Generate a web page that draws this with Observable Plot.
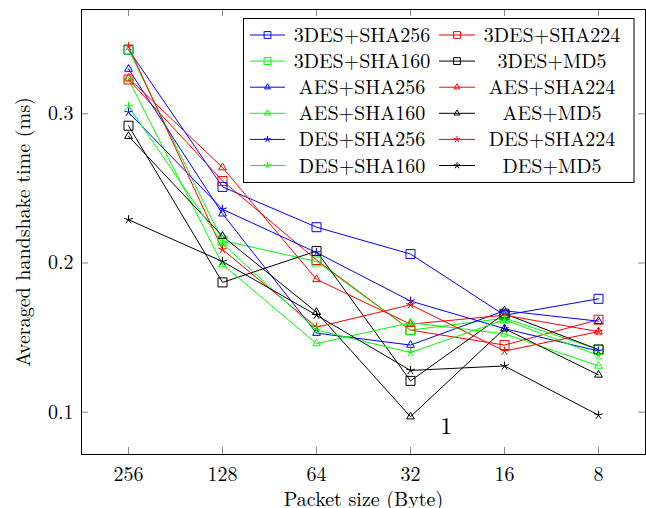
<!DOCTYPE html>
<html><head><meta charset="utf-8">
<script src="https://cdn.jsdelivr.net/npm/d3@7"></script>
<script src="https://cdn.jsdelivr.net/npm/@observablehq/plot@0.6"></script>
<style>
body{margin:0;background:#fff}
#chart svg text{font-family:'Latin Modern Roman','Liberation Serif',serif !important;}
</style>
</head><body><div id="chart"></div>
<script>
// ---- data ----
const packetSizes = [256, 128, 64, 32, 16, 8];
const ciphers = ["3DES", "AES", "DES"];
const hashes = ["SHA256", "SHA224", "SHA160", "MD5"];
const hashColors = ["#0000ff", "#ff0000", "#00ff00", "#000000"];
const yTicks = [0.1, 0.2, 0.3];

const des3Sha256 = [0.343, 0.251, 0.224, 0.206, 0.165, 0.176];
const des3Sha224 = [0.323, 0.255, 0.202, 0.155, 0.145, 0.162];
const des3Sha160 = [0.343, 0.215, 0.201, 0.155, 0.163, 0.142];
const des3Md5    = [0.292, 0.187, 0.208, 0.121, 0.166, 0.142];
const aesSha256  = [0.330, 0.233, 0.153, 0.145, 0.168, 0.161];
const aesSha224  = [0.324, 0.264, 0.189, 0.159, 0.165, 0.154];
const aesSha160  = [0.323, 0.199, 0.146, 0.160, 0.1525, 0.131];
const aesMd5     = [0.285, 0.218, 0.167, 0.097, 0.156, 0.125];
const desSha256  = [0.301, 0.236, 0.207, 0.1745, 0.156, 0.141];
const desSha224  = [0.345, 0.209, 0.157, 0.172, 0.141, 0.154];
const desSha160  = [0.305, 0.213, 0.155, 0.140, 0.162, 0.138];
const desMd5     = [0.229, 0.201, 0.165, 0.128, 0.131, 0.098];

const seriesArrays = [
  des3Sha256, des3Sha224, des3Sha160, des3Md5,
  aesSha256, aesSha224, aesSha160, aesMd5,
  desSha256, desSha224, desSha160, desMd5
];

const annotationText = ["1"];
const annotationX = [3.38];
const annotationY = [0.0904];

// ---- build table ----
const rows = [];
const seriesInfo = [];
ciphers.forEach((c, ci) => hashes.forEach((h, hi) => {
  const k = ci * hashes.length + hi;
  const name = c + "+" + h;
  seriesInfo.push({name, cipher: c, hash: h});
  seriesArrays[k].forEach((v, i) => rows.push({series: name, cipher: c, hash: h, i, v}));
}));

// ---- pgfplots-like marks ----
const rad = size => Math.sqrt(size / Math.PI);
const squareSym = {draw(c, size) { const r = rad(size); c.moveTo(-r, -r); c.lineTo(r, -r); c.lineTo(r, r); c.lineTo(-r, r); c.closePath(); }};
const triangleSym = {draw(c, size) { const r = rad(size); c.moveTo(0, -r); c.lineTo(r * 0.866, r * 0.5); c.lineTo(-r * 0.866, r * 0.5); c.closePath(); }};
const starSym = {draw(c, size) { const r = rad(size); for (let k = 0; k < 5; k++) { const a = -Math.PI / 2 + k * 2 * Math.PI / 5; c.moveTo(0, 0); c.lineTo(r * Math.cos(a), r * Math.sin(a)); } }};
const cipherSymbols = [squareSym, triangleSym, starSym];

const W = 646, H = 508, mL = 81, mR = 1, mT = 9, mB = 54;
const plotW = W - mL - mR, plotH = H - mT - mB;
const font = "'Latin Modern Roman', 'Liberation Serif', serif";
const xIdx = packetSizes.map((d, i) => i);

const chart = Plot.plot({
  width: W, height: H,
  marginLeft: mL, marginRight: mR, marginTop: mT, marginBottom: mB,
  style: {fontFamily: font, fontSize: "20px", background: "#fff", color: "#000"},
  x: {type: "linear", domain: [-0.5, 5.5]},
  y: {domain: [0.07165, 0.3699]},
  color: {domain: hashes, range: hashColors},
  symbol: {domain: ciphers, range: cipherSymbols},
  marks: [
    Plot.ruleX(xIdx, {x: d => d, insetTop: plotH - 7, stroke: "#888", strokeWidth: 1}),
    Plot.ruleX(xIdx, {x: d => d, insetBottom: plotH - 7, stroke: "#888", strokeWidth: 1}),
    Plot.ruleY(yTicks, {y: d => d, insetRight: plotW - 7, stroke: "#888", strokeWidth: 1}),
    Plot.ruleY(yTicks, {y: d => d, insetLeft: plotW - 7, stroke: "#888", strokeWidth: 1}),
    Plot.axisX({ticks: xIdx, tickFormat: i => String(packetSizes[i]), tickSize: 0, tickPadding: 12, label: null, fontSize: 20}),
    Plot.axisY({ticks: yTicks, tickFormat: d => d.toFixed(1), tickSize: 0, tickPadding: 8, label: null, fontSize: 20}),
    Plot.line(rows, {x: "i", y: "v", z: "series", stroke: "hash", strokeWidth: 1}),
    Plot.dot(rows, {x: "i", y: "v", symbol: "cipher", stroke: "hash", fill: "none", r: 4.5, strokeWidth: 1}),
    Plot.text(annotationText, {x: (d, i) => annotationX[i], y: (d, i) => annotationY[i], text: d => d, fontSize: 24, fill: "#000", textAnchor: "middle", lineAnchor: "middle"}),
    Plot.text(["Averaged handshake time (ms)"], {frameAnchor: "left", dx: -58, rotate: -90, textAnchor: "middle", lineAnchor: "middle", fontSize: 20, fill: "#000"}),
    Plot.text(["Packet size (Byte)"], {frameAnchor: "bottom", dy: 45, textAnchor: "middle", lineAnchor: "middle", fontSize: 20, fill: "#000"}),
    Plot.frame({stroke: "#000", strokeWidth: 1})
  ]
});
document.getElementById("chart").appendChild(chart);

// ---- legend (pgfplots style, inside the axes) ----
const svg = d3.select(chart);
const lg = svg.append("g");
lg.append("rect").attr("x", 243.5).attr("y", 18.5).attr("width", 390.5).attr("height", 164)
  .attr("fill", "#fff").attr("stroke", "#000").attr("stroke-width", 1);
const colDefs = [{x1: 250, x2: 285, tx: 362}, {x1: 439, x2: 475, tx: 552}];
seriesInfo.forEach((s, k) => {
  const row = Math.floor(k / 2), col = colDefs[k % 2];
  const cy = 35 + row * 26.1;
  const color = hashColors[hashes.indexOf(s.hash)];
  const sym = cipherSymbols[ciphers.indexOf(s.cipher)];
  lg.append("line").attr("x1", col.x1).attr("x2", col.x2).attr("y1", cy).attr("y2", cy)
    .attr("stroke", color).attr("stroke-width", 1);
  lg.append("path").attr("transform", `translate(${(col.x1 + col.x2) / 2},${cy})`)
    .attr("d", d3.symbol().type(sym).size(Math.PI * 3.4 * 3.4)())
    .attr("fill", "none").attr("stroke", color).attr("stroke-width", 1);
  lg.append("text").attr("x", col.tx).attr("y", cy).attr("dy", "0.35em")
    .attr("text-anchor", "middle").attr("font-family", font).attr("font-size", 20)
    .attr("fill", "#000").text(s.name);
});
</script>
</body></html>
